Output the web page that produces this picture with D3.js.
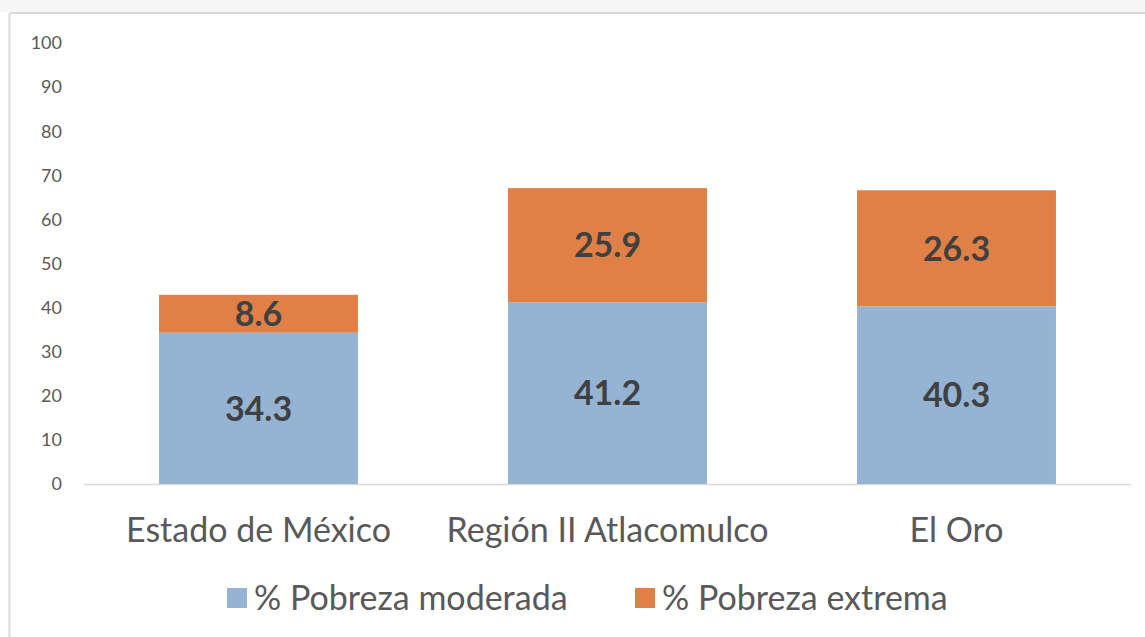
<!DOCTYPE html>
<html lang="es">
<head>
    <meta charset="UTF-8">
    <title>Pobreza</title>
    <style>
        body { margin: 0; background: #fff; }
        svg text { font-family: "Gill Sans", "Gill Sans MT", Lato, sans-serif; }
    </style>
</head>
<body>
    <svg id="chart"></svg>
<script src="https://d3js.org/d3.v7.min.js"></script>
<script>
    const categories = ["Estado de México", "Región II Atlacomulco", "El Oro"];
    const moderada = [34.3, 41.2, 40.3];
    const extrema = [8.6, 25.9, 26.3];
    const seriesNames = ["% Pobreza moderada", "% Pobreza extrema"];
    const colors = ["#95b3d3", "#df8047"];
    const yTicks = [0, 10, 20, 30, 40, 50, 60, 70, 80, 90, 100];

    const width = 1145, height = 637;
    const svg = d3.select("#chart").attr("width", width).attr("height", height);

    // chart frame
    svg.append("rect").attr("x", 0).attr("y", 0).attr("width", width).attr("height", 12).attr("fill", "#f7f7f7");
    svg.append("line").attr("x1", 9.5).attr("x2", width).attr("y1", 13).attr("y2", 13)
        .attr("stroke", "#d9d9d9").attr("stroke-width", 2);
    svg.append("line").attr("x1", 9.5).attr("x2", 9.5).attr("y1", 13).attr("y2", height)
        .attr("stroke", "#d9d9d9").attr("stroke-width", 2);

    const x = d3.scaleBand().domain(categories).range([84, 1131]).paddingInner(0.43).paddingOuter(0.215);
    const y = d3.scaleLinear().domain([0, 100]).range([484, 43]);

    const data = categories.map((c, i) => ({ cat: c, moderada: moderada[i], extrema: extrema[i] }));
    const stack = d3.stack().keys(["moderada", "extrema"])(data);

    // y tick labels
    svg.append("g").selectAll("text").data(yTicks).join("text")
        .attr("x", 62).attr("y", d => y(d)).attr("dy", "0.35em")
        .attr("text-anchor", "end").attr("font-size", 18).attr("fill", "#595959")
        .text(d => d);

    // baseline
    svg.append("line").attr("x1", 84).attr("x2", 1131).attr("y1", y(0) + 0.5).attr("y2", y(0) + 0.5)
        .attr("stroke", "#d9d9d9").attr("stroke-width", 1.5);

    stack.forEach((s, k) => {
        svg.append("g").selectAll("rect").data(s).join("rect")
            .attr("x", d => x(d.data.cat))
            .attr("width", x.bandwidth())
            .attr("y", d => y(d[1]))
            .attr("height", d => y(d[0]) - y(d[1]))
            .attr("fill", colors[k]);

        svg.append("g").selectAll("text").data(s).join("text")
            .attr("x", d => x(d.data.cat) + x.bandwidth() / 2)
            .attr("y", d => (y(d[0]) + y(d[1])) / 2)
            .attr("dy", "0.36em")
            .attr("text-anchor", "middle")
            .attr("font-size", 34).attr("font-weight", "bold").attr("fill", "#404040")
            .text(d => (d[1] - d[0]).toFixed(1));
    });

    // category labels
    svg.append("g").selectAll("text").data(categories).join("text")
        .attr("x", d => x(d) + x.bandwidth() / 2).attr("y", 530).attr("dy", "0.35em")
        .attr("text-anchor", "middle").attr("font-size", 34).attr("fill", "#595959")
        .text(d => d);

    // legend
    const legendX = [227, 635];
    const legend = svg.append("g").selectAll("g").data(seriesNames).join("g")
        .attr("transform", (d, i) => `translate(${legendX[i]},588)`);
    legend.append("rect").attr("width", 20).attr("height", 20).attr("fill", (d, i) => colors[i]);
    legend.append("text").attr("x", 27).attr("y", 10).attr("dy", "0.35em")
        .attr("font-size", 34).attr("fill", "#595959").text(d => d);
</script>
</body>
</html>
